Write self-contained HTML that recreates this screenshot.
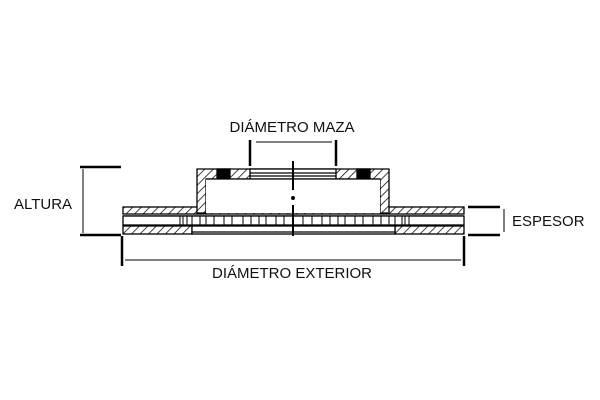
<!DOCTYPE html>
<html><head><style>
body{margin:0;background:#fff;}
svg{display:block;}
text{font-family:"Liberation Sans",sans-serif;font-size:15px;fill:#111;}
</style></head><body>
<svg width="600" height="400" viewBox="0 0 600 400" xmlns="http://www.w3.org/2000/svg">
<defs>
<pattern id="h" width="6" height="6" patternUnits="userSpaceOnUse" patternTransform="rotate(45)">
<rect width="6" height="6" fill="#fff"/><line x1="0" y1="0" x2="0" y2="6" stroke="#000" stroke-width="1.5"/>
</pattern>
</defs>
<g stroke="#000" stroke-width="1.3">
<rect x="123" y="207" width="341" height="7" fill="url(#h)"/>
<line x1="123" y1="216" x2="464" y2="216"/>
<rect x="123" y="216" width="341" height="9" fill="#fff"/>
<g stroke-width="1">
<line x1="180" y1="216" x2="180" y2="225"/><line x1="183" y1="216" x2="183" y2="225"/>
<line x1="187" y1="216" x2="187" y2="225"/><line x1="192" y1="216" x2="192" y2="225"/>
<line x1="200" y1="216" x2="200" y2="225"/><line x1="206" y1="216" x2="206" y2="225"/>
<line x1="214" y1="216" x2="214" y2="225"/><line x1="224" y1="216" x2="224" y2="225"/>
<line x1="232" y1="216" x2="232" y2="225"/><line x1="243" y1="216" x2="243" y2="225"/>
<line x1="251" y1="216" x2="251" y2="225"/><line x1="259" y1="216" x2="259" y2="225"/>
<line x1="266" y1="216" x2="266" y2="225"/><line x1="276" y1="216" x2="276" y2="225"/>
<line x1="284" y1="216" x2="284" y2="225"/><line x1="303" y1="216" x2="303" y2="225"/>
<line x1="312" y1="216" x2="312" y2="225"/><line x1="322" y1="216" x2="322" y2="225"/>
<line x1="330" y1="216" x2="330" y2="225"/><line x1="338" y1="216" x2="338" y2="225"/>
<line x1="345" y1="216" x2="345" y2="225"/><line x1="355" y1="216" x2="355" y2="225"/>
<line x1="363" y1="216" x2="363" y2="225"/><line x1="373" y1="216" x2="373" y2="225"/>
<line x1="381" y1="216" x2="381" y2="225"/><line x1="389" y1="216" x2="389" y2="225"/>
<line x1="395" y1="216" x2="395" y2="225"/><line x1="402" y1="216" x2="402" y2="225"/>
<line x1="405" y1="216" x2="405" y2="225"/><line x1="409" y1="216" x2="409" y2="225"/>
</g>
<rect x="123" y="226" width="69" height="8" fill="url(#h)"/>
<rect x="395" y="226" width="69" height="8" fill="url(#h)"/>
<rect x="192" y="226" width="203" height="8" fill="#fff"/>
<line x1="192" y1="232" x2="395" y2="232"/>
<path d="M197 169 H389 V213 H380 V179 H206 V213 H197 Z" fill="url(#h)"/>
<rect x="250" y="169" width="86" height="10" fill="#fff"/>
<line x1="250" y1="173" x2="336" y2="173"/>
<line x1="250" y1="176" x2="336" y2="176"/>
<rect x="217" y="169" width="13" height="10" fill="#000"/>
<rect x="357" y="169" width="13" height="10" fill="#000"/>
<line x1="223" y1="179" x2="223" y2="192" stroke-width="2"/>
<line x1="363" y1="179" x2="363" y2="192" stroke-width="2"/>
<rect x="206" y="179" width="174" height="34" fill="#fff" stroke="none"/>
<line x1="206" y1="179" x2="380" y2="179"/>
<line x1="293" y1="161" x2="293" y2="190" stroke-width="2"/>
<circle cx="293" cy="198" r="1.3" fill="#000"/>
<line x1="293" y1="205" x2="293" y2="236" stroke-width="2"/>
<g stroke-width="2.5">
<line x1="250" y1="140" x2="250" y2="166"/><line x1="336" y1="140" x2="336" y2="166"/>
<line x1="80" y1="167" x2="121" y2="167"/><line x1="80" y1="235" x2="121" y2="235"/>
<line x1="468" y1="207" x2="500" y2="207"/><line x1="468" y1="235" x2="500" y2="235"/>
<line x1="122" y1="236" x2="122" y2="266"/><line x1="464" y1="236" x2="464" y2="266"/>
</g>
<line x1="256" y1="142" x2="332" y2="142" stroke-width="1"/>
<line x1="83" y1="169" x2="83" y2="233" stroke-width="1"/>
<line x1="504" y1="209" x2="504" y2="232" stroke-width="1"/>
<line x1="125" y1="260" x2="461" y2="260" stroke-width="1"/>
</g>
<text x="292" y="132" text-anchor="middle">DIÁMETRO MAZA</text>
<text x="14" y="209">ALTURA</text>
<text x="512" y="226">ESPESOR</text>
<text x="292" y="278" text-anchor="middle">DIÁMETRO EXTERIOR</text>
</svg>
</body></html>
